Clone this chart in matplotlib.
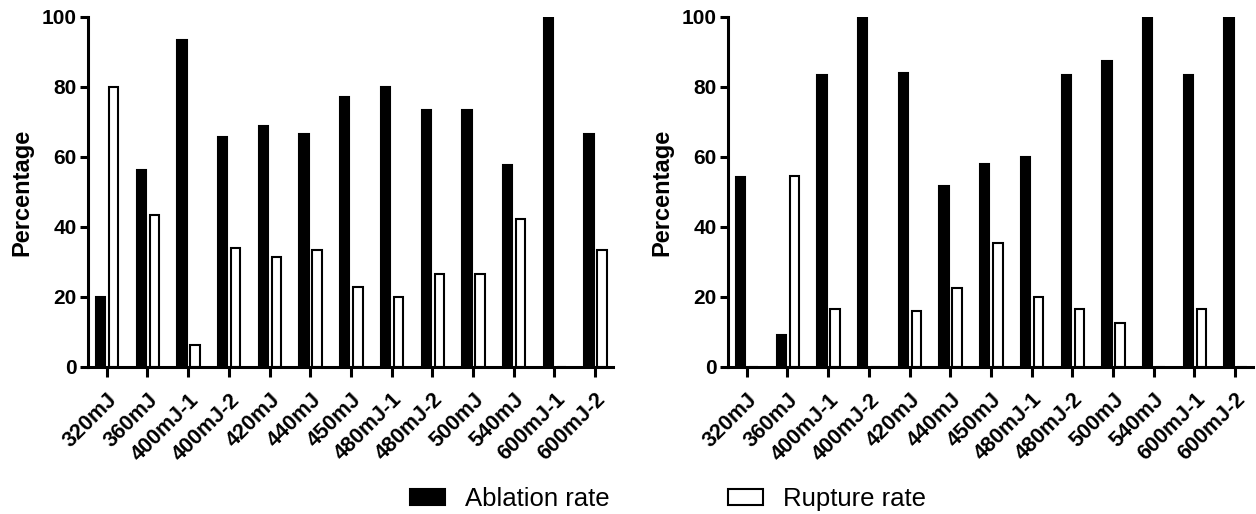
import numpy as np
import matplotlib
matplotlib.use("Agg")
import matplotlib.pyplot as plt
from matplotlib.transforms import ScaledTranslation

plt.rcParams['font.family'] = ['Liberation Sans', 'DejaVu Sans']

categorias = ["320mJ", "360mJ", "400mJ-1", "400mJ-2", "420mJ", "440mJ", "450mJ",
              "480mJ-1", "480mJ-2", "500mJ", "540mJ", "600mJ-1", "600mJ-2"]

# painel esquerdo
ablacao_1 = [20, 56.3, 93.3, 65.7, 68.8, 66.7, 77.1, 80, 73.3, 73.3, 57.7, 100, 66.7]
ruptura_1 = [80, 43.3, 6.3, 33.9, 31.3, 33.3, 22.9, 20, 26.7, 26.7, 42.3, 0, 33.3]

# painel direito
ablacao_2 = [54.2, 9.1, 83.3, 100, 83.9, 51.6, 58.1, 60, 83.3, 87.5, 100, 83.3, 100]
ruptura_2 = [0, 54.5, 16.7, 0, 16, 22.6, 35.5, 20, 16.7, 12.5, 0, 16.7, 0]

fig = plt.figure(figsize=(12.56, 5.14), dpi=100)
ax1 = fig.add_axes([88 / 1256, 1 - 367 / 514, 525 / 1256, 350 / 514])
ax2 = fig.add_axes([728 / 1256, 1 - 367 / 514, 525 / 1256, 350 / 514])

x = np.arange(len(categorias))
larg = 0.23
desloc = ScaledTranslation(4 / 100, 0, fig.dpi_scale_trans)

for ax, abl, rup in [(ax1, ablacao_1, ruptura_1), (ax2, ablacao_2, ruptura_2)]:
    b1 = ax.bar(x - 0.15, abl, larg, color="black", edgecolor="black",
                linewidth=1.5, label="Ablation rate")
    b2 = ax.bar(x + 0.17, rup, larg, color="white", edgecolor="black",
                linewidth=1.5, label="Rupture rate")
    ax.set_xlim(-0.46, 12.44)
    ax.set_ylim(0, 100)
    ax.set_yticks([0, 20, 40, 60, 80, 100])
    ax.set_xticks(x)
    ax.set_xticklabels(categorias, rotation=45, ha="right", rotation_mode="anchor",
                       fontsize=15.5, fontweight="bold")
    for lab in ax.get_xticklabels():
        lab.set_transform(lab.get_transform() + desloc)
    for lab in ax.get_yticklabels():
        lab.set_fontsize(15)
        lab.set_fontweight("bold")
    ax.set_ylabel("Percentage", fontsize=17, fontweight="bold", labelpad=6)
    ax.spines["top"].set_visible(False)
    ax.spines["right"].set_visible(False)
    ax.spines["left"].set_linewidth(2.2)
    ax.spines["bottom"].set_linewidth(2.2)
    ax.tick_params(axis="y", width=2.2, length=6, pad=2)
    ax.tick_params(axis="x", width=2.2, length=7, pad=9)

fig.legend([b1, b2], ["Ablation rate", "Rupture rate"], loc="center",
           bbox_to_anchor=(668 / 1256, 1 - 499 / 514), ncol=2, frameon=False,
           fontsize=18.5, handlelength=1.36, handleheight=0.62,
           handletextpad=0.78, columnspacing=4.6)

fig.savefig("out.png", dpi=100)
